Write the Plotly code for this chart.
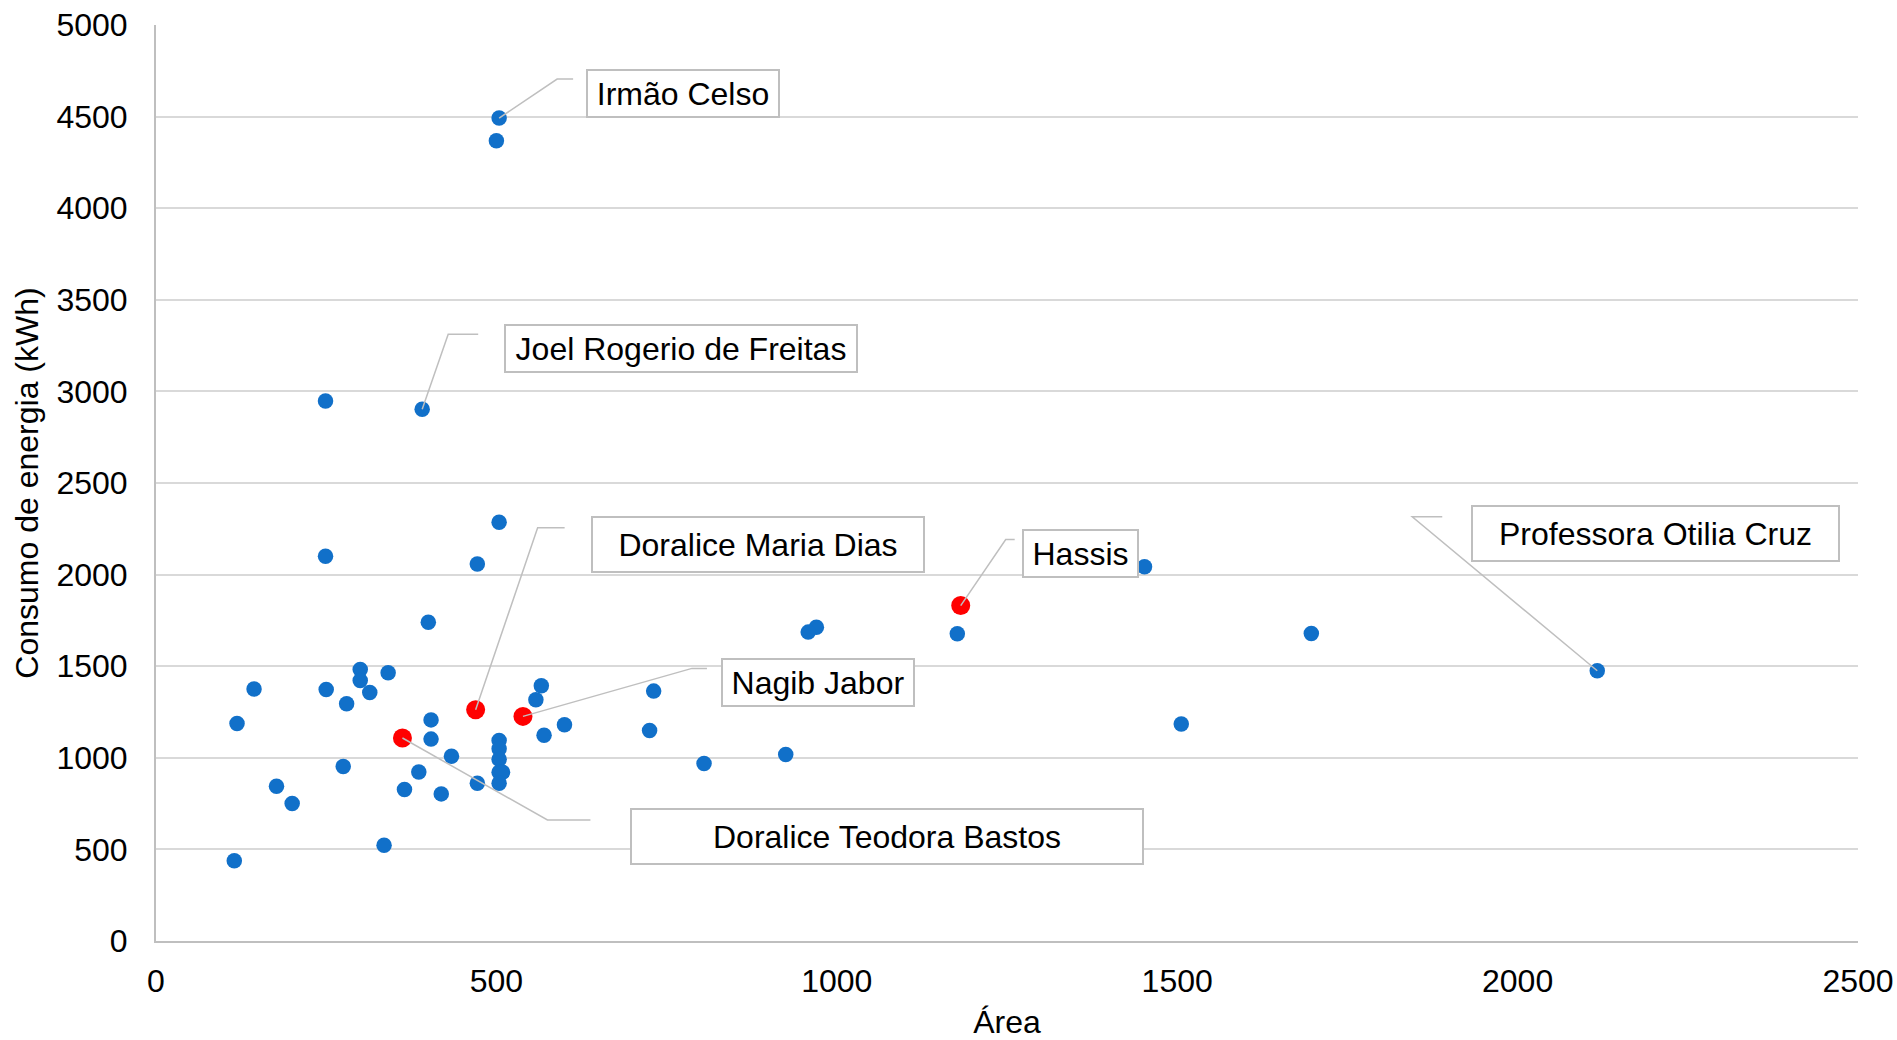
import plotly.graph_objects as go

# Escolas: área (m²) x consumo de energia (kWh)
area_escolas = [504, 500, 249, 391, 504, 249, 472, 1452, 400, 970, 958, 1177, 1697,
                2117, 300, 341, 144, 250, 300, 314, 731, 566, 558, 280, 119, 404,
                600, 404, 570, 725, 504, 504, 504, 504, 509, 504, 472, 434, 925,
                805, 275, 386, 177, 365, 419, 200, 335, 115, 1506]
consumo_escolas = [4492, 4368, 2948, 2902, 2286, 2100, 2058, 2043, 1740, 1713, 1686, 1677, 1678,
                   1475, 1482, 1464, 1375, 1373, 1422, 1356, 1364, 1393, 1317, 1295, 1187, 1207,
                   1180, 1102, 1123, 1149, 1094, 1049, 992, 921, 921, 861, 861, 1009, 1018,
                   969, 952, 923, 845, 827, 803, 750, 523, 438, 1184]

# Escolas em destaque
nomes_destaque = ["Hassis", "Doralice Maria Dias", "Nagib Jabor", "Doralice Teodora Bastos"]
area_destaque = [1182, 469.5, 539, 362]
consumo_destaque = [1831, 1262, 1226, 1108]

# Escolas identificadas entre os pontos azuis (índice na lista)
nomes_azuis = ["Irmão Celso", "Joel Rogerio de Freitas", "Professora Otilia Cruz"]
indices_azuis = [0, 3, 13]

ticks_x = [0, 500, 1000, 1500, 2000, 2500]
ticks_y = [0, 500, 1000, 1500, 2000, 2500, 3000, 3500, 4000, 4500, 5000]

FONTE = "Liberation Sans, Arial, sans-serif"
CINZA = "#bfbfbf"
TAM = 32

# Deslocamentos (px) das caixas de rótulo e das linhas de chamada em relação ao ponto
# (caixa dx, dy, largura, altura, canto dx, dy, fim dx)
estilo_rotulos = {
    "Irmão Celso": (184, 25, 190, 45, 58, 39, 74),
    "Joel Rogerio de Freitas": (259, 61, 350, 45, 26, 75, 56),
    "Doralice Maria Dias": (282, 165, 330, 53, 62, 182, 89),
    "Nagib Jabor": (295, 34, 190, 45, 169, 48, 184),
    "Doralice Teodora Bastos": (485, -98, 510, 53, 145, -82, 188),
    "Hassis": (120, 52, 113, 45, 45, 66, 54),
    "Professora Otilia Cruz": (58, 137, 365, 53, -185, 154, -155),
}

fig = go.Figure()
fig.add_trace(go.Scatter(
    x=area_escolas, y=consumo_escolas, mode="markers",
    marker=dict(color="#1170C9", size=15.5, line=dict(width=0)),
    showlegend=False, hoverinfo="x+y",
))
fig.add_trace(go.Scatter(
    x=area_destaque, y=consumo_destaque, mode="markers",
    marker=dict(color="#FF0000", size=19, line=dict(width=0)),
    showlegend=False, text=nomes_destaque, hoverinfo="text+x+y",
))

pontos_rotulados = [(n, area_escolas[i], consumo_escolas[i]) for n, i in zip(nomes_azuis, indices_azuis)]
pontos_rotulados += list(zip(nomes_destaque, area_destaque, consumo_destaque))

for nome, px, py in pontos_rotulados:
    bx, by, w, h, cx, cy, ex = estilo_rotulos[nome]
    fig.add_shape(
        type="path", xref="x", yref="y", xsizemode="pixel", ysizemode="pixel",
        xanchor=px, yanchor=py,
        path=f"M0,0 L{cx},{cy} L{ex},{cy}",
        line=dict(color=CINZA, width=1.5), layer="above",
    )
    fig.add_annotation(
        x=px, y=py, xref="x", yref="y", text=nome, showarrow=False,
        xshift=bx, yshift=by, width=w, height=h, align="center", valign="middle",
        bgcolor="white", bordercolor=CINZA, borderwidth=2, borderpad=0,
        font=dict(family=FONTE, size=TAM, color="black"),
    )

fig.update_layout(
    width=1897, height=1040,
    margin=dict(l=156, r=39, t=25, b=99, autoexpand=False),
    paper_bgcolor="white", plot_bgcolor="white",
    font=dict(family=FONTE, size=TAM, color="black"),
    xaxis=dict(
        range=[0, 2500], tickvals=ticks_x, showgrid=False, zeroline=False,
        showline=True, linecolor=CINZA, linewidth=2, ticks="",
        ticklabelstandoff=11,
        title=dict(text="Área", standoff=22, font=dict(size=TAM)),
    ),
    yaxis=dict(
        range=[0, 5000], tickvals=ticks_y, showgrid=True, gridcolor="#d9d9d9",
        gridwidth=1.5, zeroline=False, showline=True, linecolor=CINZA, linewidth=2,
        ticks="", ticklabelstandoff=20,
        title=dict(text="Consumo de energia (kWh)", standoff=8, font=dict(size=TAM)),
    ),
)

fig.write_html("out.html")
